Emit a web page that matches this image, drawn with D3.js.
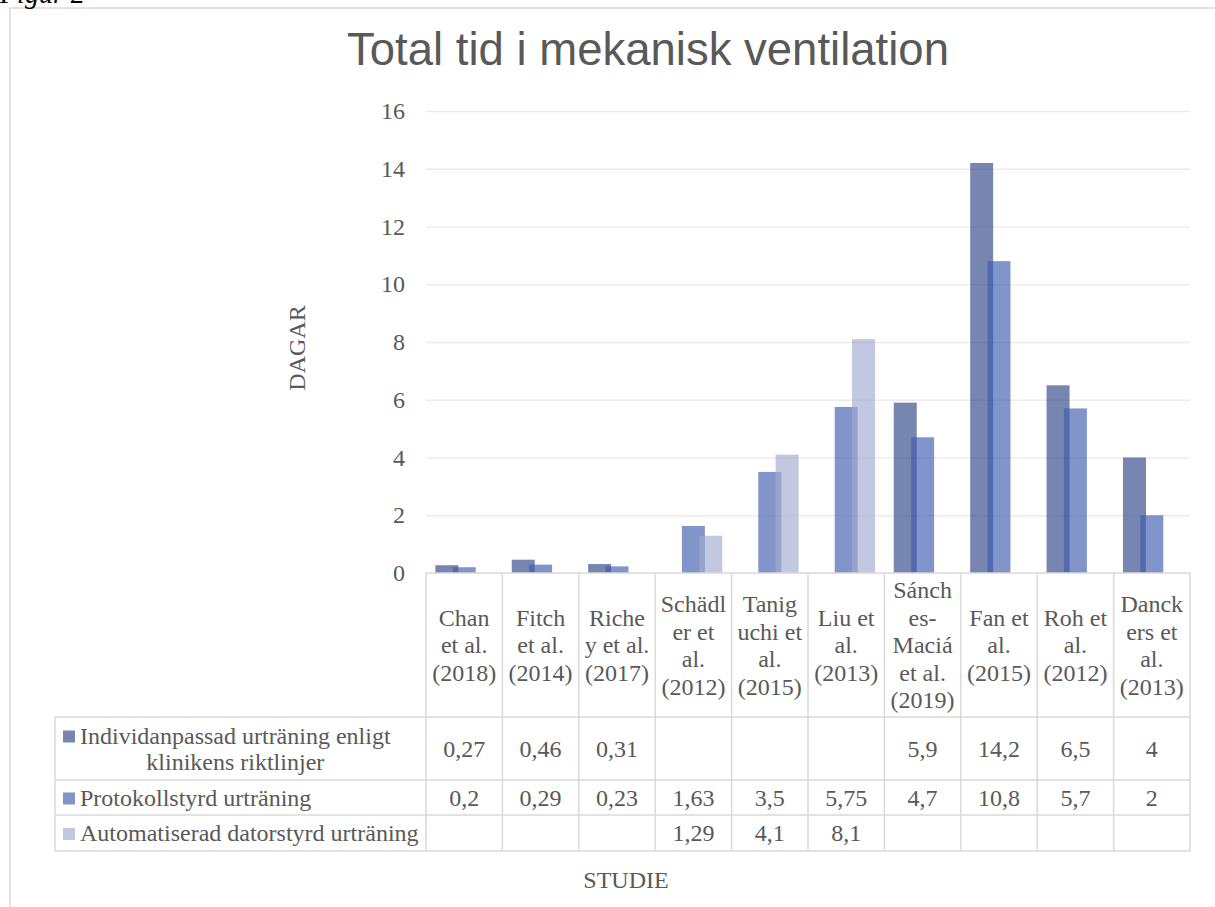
<!DOCTYPE html>
<html>
<head>
<meta charset="utf-8">
<script src="https://cdn.jsdelivr.net/npm/d3@7"></script>
<style>
  body { margin: 0; background: #fff; }
  svg { display: block; }
  text { fill: #595959; font-family: "Liberation Serif", "Times New Roman", serif; }
</style>
</head>
<body>
<svg width="1215" height="907"></svg>
<script>
// data
var categories = ["Chan et al. (2018)", "Fitch et al. (2014)", "Richey et al. (2017)", "Schädler et al. (2012)",
  "Taniguchi et al. (2015)", "Liu et al. (2013)", "Sánches-Maciá et al. (2019)", "Fan et al. (2015)",
  "Roh et al. (2012)", "Danckers et al. (2013)"];
// tick labels as they wrap in the table header
var categoryLines = [
  ["Chan", "et al.", "(2018)"],
  ["Fitch", "et al.", "(2014)"],
  ["Riche", "y et al.", "(2017)"],
  ["Schädl", "er et", "al.", "(2012)"],
  ["Tanig", "uchi et", "al.", "(2015)"],
  ["Liu et", "al.", "(2013)"],
  ["Sánch", "es-", "Maciá", "et al.", "(2019)"],
  ["Fan et", "al.", "(2015)"],
  ["Roh et", "al.", "(2012)"],
  ["Danck", "ers et", "al.", "(2013)"]
];
var seriesNames = [
  ["Individanpassad urträning enligt", "klinikens riktlinjer"],
  ["Protokollstyrd urträning"],
  ["Automatiserad datorstyrd urträning"]
];
var individanpassad = [0.27, 0.46, 0.31, null, null, null, 5.9, 14.2, 6.5, 4];
var protokollstyrd  = [0.2, 0.29, 0.23, 1.63, 3.5, 5.75, 4.7, 10.8, 5.7, 2];
var automatiserad   = [null, null, null, 1.29, 4.1, 8.1, null, null, null, null];
var yTicks = [0, 2, 4, 6, 8, 10, 12, 14, 16];

(function() {
var series = [individanpassad, protokollstyrd, automatiserad];
var colors = ["#2c4585", "#3d5cae", "#a2abce"];

var svg = d3.select("svg");
var serif = '"Liberation Serif", "Times New Roman", serif';
var grey = "#d9d9d9";
var fs = "24px";

var left = 426, right = 1190, plotTop = 111, base = 573;
var rows = [717, 780, 815, 851];
var legendLeft = 55;

var x = d3.scaleBand().domain(categories).range([left, right]).paddingInner(0).paddingOuter(0);
var y = d3.scaleLinear().domain([0, 16]).range([base, plotTop]);
var fmt = d3.formatLocale({decimal: ",", thousands: "\u00a0", grouping: [3], currency: ["", " kr"]}).format("~f");

// outer frame
svg.append("path")
  .attr("d", "M10,907 L10,8 L1215,8")
  .attr("fill", "none").attr("stroke", grey).attr("stroke-width", 1.5);

// Figur 2 caption (cut off at the top)
svg.append("text").attr("x", 0).attr("y", 3)
  .style("font-style", "italic").style("font-size", "28px").style("fill", "#000")
  .text("Figur 2");

// title
svg.append("text")
  .attr("x", 648).attr("y", 65)
  .attr("text-anchor", "middle")
  .style("font-family", '"Liberation Sans", Arial, sans-serif')
  .style("font-size", "45.5px")
  .text("Total tid i mekanisk ventilation");

// gridlines
svg.append("g")
  .attr("transform", "translate(" + left + ",0)")
  .call(d3.axisLeft(y).tickValues(yTicks.filter(function(d) { return d > 0; })).tickSize(-(right - left)).tickFormat(""))
  .call(function(g) { g.select(".domain").remove(); })
  .selectAll("line").attr("stroke", "#ececec").attr("stroke-width", 1.5);

// y axis labels
var yAxis = svg.append("g")
  .attr("transform", "translate(" + left + ",0)")
  .call(d3.axisLeft(y).tickValues(yTicks).tickSize(0).tickPadding(21).tickFormat(d3.format("d")));
yAxis.select(".domain").remove();
yAxis.selectAll("text").style("font-family", serif).style("font-size", fs).attr("fill", "#595959");

// bars
var bw = x.bandwidth();
var barW = bw * 0.301;
var step = barW * 0.754;
var offset = (bw - (2 * step + barW)) / 2;
var xs = d3.scaleLinear().domain([0, 2]).range([offset, offset + 2 * step]);

series.forEach(function(vals, i) {
  svg.append("g").selectAll("rect")
    .data(vals.map(function(v, j) { return {c: categories[j], v: v}; }).filter(function(d) { return d.v != null; }))
    .enter().append("rect")
    .attr("x", function(d) { return x(d.c) + xs(i); })
    .attr("width", barW)
    .attr("y", function(d) { return y(d.v); })
    .attr("height", function(d) { return y(0) - y(d.v); })
    .attr("fill", colors[i])
    .attr("fill-opacity", 0.65);
});

// data table lines
var lines = svg.append("g").attr("stroke", grey).attr("stroke-width", 1.5);
lines.append("line").attr("x1", left).attr("x2", right).attr("y1", base).attr("y2", base);
rows.forEach(function(r) {
  lines.append("line").attr("x1", legendLeft).attr("x2", right).attr("y1", r).attr("y2", r);
});
var cols = categories.map(function(c) { return x(c); }).concat([right]);
cols.forEach(function(c) {
  lines.append("line").attr("x1", c).attr("x2", c).attr("y1", base).attr("y2", rows[rows.length - 1]);
});
lines.append("line").attr("x1", legendLeft).attr("x2", legendLeft).attr("y1", rows[0]).attr("y2", rows[rows.length - 1]);

// category header
var lh = 27.5;
var headMid = (base + rows[0]) / 2;
categories.forEach(function(c, j) {
  var ls = categoryLines[j];
  var t = svg.append("text")
    .attr("text-anchor", "middle")
    .style("font-size", fs);
  ls.forEach(function(s, k) {
    t.append("tspan")
      .attr("x", x(c) + bw / 2)
      .attr("y", headMid + (k - (ls.length - 1) / 2) * lh)
      .attr("dy", "0.35em")
      .text(s);
  });
});

// legend column + values
series.forEach(function(vals, i) {
  var r0 = rows[i], r1 = rows[i + 1];
  var mid = (r0 + r1) / 2;
  var names = seriesNames[i];
  var g = svg.append("g");
  var firstY = mid - (names.length - 1) / 2 * 26;
  g.append("rect")
    .attr("x", 63).attr("y", firstY + 8 - 13)
    .attr("width", 12).attr("height", 12)
    .attr("fill", colors[i]).attr("fill-opacity", 0.65);
  var t = g.append("text").style("font-size", fs);
  names.forEach(function(s, k) {
    t.append("tspan").attr("y", firstY + k * 26).attr("dy", "0.35em").text(s);
  });
  // centre the wrapped lines under the longest one
  var widths = [];
  t.selectAll("tspan").each(function() { widths.push(this.getComputedTextLength()); });
  var maxW = d3.max(widths);
  t.selectAll("tspan").attr("x", function(d, k) { return 80 + (maxW - widths[k]) / 2; });

  vals.forEach(function(v, j) {
    if (v == null) return;
    svg.append("text")
      .attr("x", x(categories[j]) + bw / 2)
      .attr("y", mid).attr("dy", "0.35em")
      .attr("text-anchor", "middle")
      .style("font-size", fs)
      .text(fmt(v));
  });
});

// axis titles
svg.append("text")
  .attr("transform", "translate(297,348) rotate(-90)")
  .attr("text-anchor", "middle").attr("dy", "0.35em")
  .style("font-size", fs)
  .text("DAGAR");

svg.append("text")
  .attr("x", 626).attr("y", 880).attr("dy", "0.35em")
  .attr("text-anchor", "middle")
  .style("font-size", fs)
  .text("STUDIE");
})();
</script>
</body>
</html>
